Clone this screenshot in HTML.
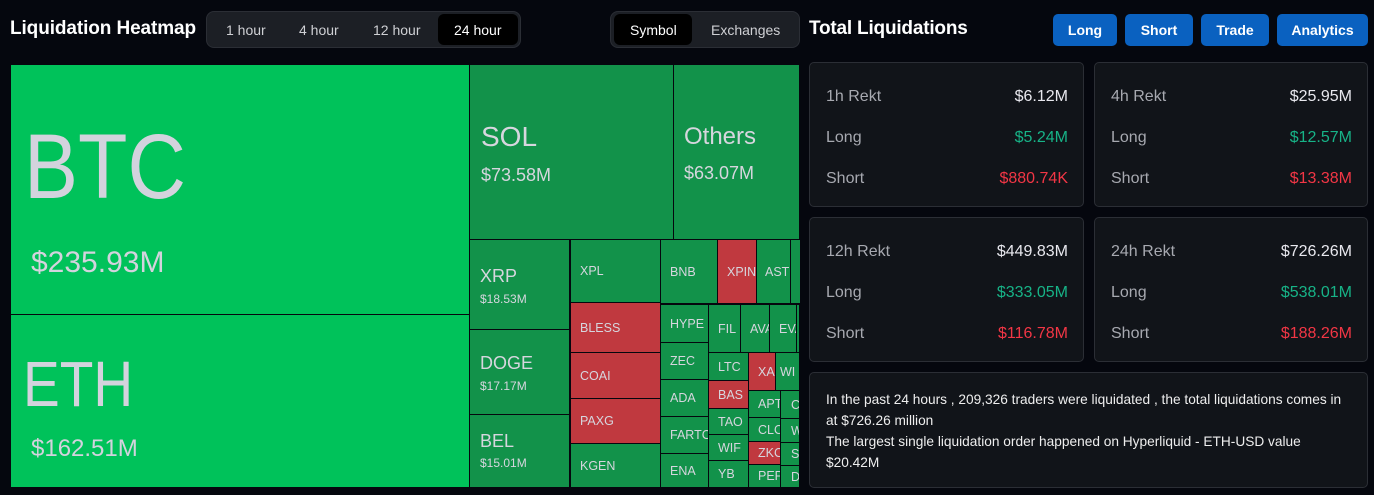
<!DOCTYPE html>
<html><head><meta charset="utf-8"><style>
*{margin:0;padding:0;box-sizing:border-box}
body{width:1374px;height:495px;background:#05070e;font-family:"Liberation Sans",sans-serif;position:relative;overflow:hidden;color:#e8e8ee}
.a{position:absolute}
.t{position:absolute;background:#12924a;color:#d6d6de;overflow:hidden;white-space:nowrap;font-size:12.5px;display:flex;align-items:center;padding-left:9px}
.r{background:#c0393f}
.g{background:#00c25a}
.big{display:block;padding:0}
.c{transform-origin:0 0;display:inline-block}
.btn{position:absolute;top:14px;height:32px;background:#0a61c0;border-radius:5px;color:#fff;font-weight:bold;font-size:14px;display:flex;align-items:center;justify-content:center}
.card{position:absolute;background:#111419;border:1px solid #2b2e35;border-radius:5px}
.row{position:absolute;left:16px;right:15px;display:flex;justify-content:space-between;font-size:16px}
.lab{color:#a7a9b0}
.gr{color:#17b387}.rd{color:#f23645}
</style></head><body>
<div class="a" style="left:10px;top:18px;font-size:19px;font-weight:bold;letter-spacing:-0.1px;color:#fff">Liquidation Heatmap</div>
<div class="a" style="left:206px;top:11px;width:315px;height:37px;background:#1c1f25;border:1px solid #2b2e35;border-radius:8px"></div>
<div class="a" style="left:438px;top:14px;width:80px;height:31px;background:#000;border-radius:6px"></div>
<div class="a" style="left:226px;top:22px;font-size:14px;color:#cfd0d4">1 hour</div>
<div class="a" style="left:299px;top:22px;font-size:14px;color:#cfd0d4">4 hour</div>
<div class="a" style="left:373px;top:22px;font-size:14px;color:#cfd0d4">12 hour</div>
<div class="a" style="left:454px;top:22px;font-size:14px;color:#fff">24 hour</div>
<div class="a" style="left:610px;top:11px;width:190px;height:37px;background:#1c1f25;border:1px solid #2b2e35;border-radius:8px"></div>
<div class="a" style="left:614px;top:14px;width:78px;height:31px;background:#000;border-radius:6px"></div>
<div class="a" style="left:630px;top:22px;font-size:14px;color:#fff">Symbol</div>
<div class="a" style="left:711px;top:22px;font-size:14px;color:#cfd0d4">Exchanges</div>

<!-- heatmap -->
<div class="t g big" style="left:11px;top:65px;width:458px;height:249px"><div class="a c" style="left:13px;top:50px;font-size:92px;color:#d3d3dd;transform:scaleX(0.88)">BTC</div><div class="a" style="left:20px;top:181px;font-size:30px;color:#d3d3dd">$235.93M</div></div>
<div class="t g big" style="left:11px;top:315px;width:458px;height:172px"><div class="a c" style="left:12px;top:32px;font-size:64px;color:#d3d3dd;transform:scaleX(0.86)">ETH</div><div class="a" style="left:20px;top:120px;font-size:24px;color:#d3d3dd">$162.51M</div></div>
<div class="t big" style="left:470px;top:65px;width:203px;height:174px"><div class="a" style="left:11px;top:56px;font-size:28px">SOL</div><div class="a" style="left:11px;top:100px;font-size:18px">$73.58M</div></div>
<div class="t big" style="left:674px;top:65px;width:125px;height:174px"><div class="a" style="left:10px;top:58px;font-size:24px">Others</div><div class="a" style="left:10px;top:98px;font-size:18px">$63.07M</div></div>
<div class="t big" style="left:470px;top:240px;width:99px;height:89px"><div class="a" style="left:10px;top:26px;font-size:18px">XRP</div><div class="a" style="left:10px;top:52px;font-size:12px">$18.53M</div></div>
<div class="t big" style="left:470px;top:330px;width:99px;height:84px"><div class="a" style="left:10px;top:23px;font-size:18px">DOGE</div><div class="a" style="left:10px;top:49px;font-size:12px">$17.17M</div></div>
<div class="t big" style="left:470px;top:415px;width:99px;height:72px"><div class="a" style="left:10px;top:16px;font-size:18px">BEL</div><div class="a" style="left:10px;top:41px;font-size:12px">$15.01M</div></div>
<div class="t" style="left:571px;top:240px;width:89px;height:62px">XPL</div>
<div class="t r" style="left:571px;top:303px;width:89px;height:49px">BLESS</div>
<div class="t r" style="left:571px;top:353px;width:89px;height:45px">COAI</div>
<div class="t r" style="left:571px;top:399px;width:89px;height:44px">PAXG</div>
<div class="t" style="left:571px;top:444px;width:89px;height:43px">KGEN</div>
<div class="t" style="left:661px;top:240px;width:56px;height:63px">BNB</div>
<div class="t r" style="left:718px;top:240px;width:38px;height:63px">XPIN</div>
<div class="t" style="left:757px;top:240px;width:33px;height:63px;padding-left:8px">AST</div>
<div class="t" style="left:791px;top:240px;width:8px;height:63px"></div>
<div class="t" style="left:661px;top:305px;width:47px;height:37px">HYPE</div>
<div class="t" style="left:661px;top:343px;width:47px;height:36px">ZEC</div>
<div class="t" style="left:661px;top:380px;width:47px;height:36px">ADA</div>
<div class="t" style="left:661px;top:417px;width:47px;height:36px">FARTC</div>
<div class="t" style="left:661px;top:454px;width:47px;height:33px">ENA</div>
<div class="t" style="left:709px;top:305px;width:31px;height:47px">FIL</div>
<div class="t" style="left:741px;top:305px;width:28px;height:47px">AVA</div>
<div class="t" style="left:770px;top:305px;width:26px;height:47px">EVA</div>
<div class="t" style="left:797px;top:305px;width:2px;height:47px;padding:0"></div>
<div class="t" style="left:709px;top:353px;width:39px;height:27px">LTC</div>
<div class="t r" style="left:709px;top:381px;width:39px;height:27px">BAS</div>
<div class="t" style="left:709px;top:409px;width:39px;height:25px">TAO</div>
<div class="t" style="left:709px;top:435px;width:39px;height:25px">WIF</div>
<div class="t" style="left:709px;top:461px;width:39px;height:26px">YB</div>
<div class="t r" style="left:749px;top:353px;width:26px;height:37px">XA</div>
<div class="t" style="left:776px;top:353px;width:23px;height:37px;padding-left:4px">WI</div>
<div class="t" style="left:749px;top:391px;width:31px;height:26px">APT</div>
<div class="t" style="left:749px;top:418px;width:31px;height:23px">CLO</div>
<div class="t r" style="left:749px;top:442px;width:31px;height:22px">ZKC</div>
<div class="t" style="left:749px;top:465px;width:31px;height:22px">PEP</div>
<div class="t" style="left:781px;top:391px;width:18px;height:27px;padding-left:10px">C</div>
<div class="t" style="left:781px;top:419px;width:18px;height:23px;padding-left:10px">W</div>
<div class="t" style="left:781px;top:443px;width:18px;height:22px;padding-left:10px">S</div>
<div class="t" style="left:781px;top:466px;width:18px;height:21px;padding-left:10px">D</div>

<!-- right -->
<div class="a" style="left:809px;top:18px;font-size:19px;font-weight:bold;letter-spacing:-0.2px;color:#fff">Total Liquidations</div>
<div class="btn" style="left:1053px;width:64px">Long</div>
<div class="btn" style="left:1125px;width:68px">Short</div>
<div class="btn" style="left:1201px;width:68px">Trade</div>
<div class="btn" style="left:1277px;width:91px">Analytics</div>

<div class="card" style="left:809px;top:62px;width:275px;height:145px">
<div class="row" style="top:25px"><span class="lab">1h Rekt</span><span>$6.12M</span></div>
<div class="row" style="top:66px"><span class="lab">Long</span><span class="gr">$5.24M</span></div>
<div class="row" style="top:107px"><span class="lab">Short</span><span class="rd">$880.74K</span></div></div>
<div class="card" style="left:1094px;top:62px;width:274px;height:145px">
<div class="row" style="top:25px"><span class="lab">4h Rekt</span><span>$25.95M</span></div>
<div class="row" style="top:66px"><span class="lab">Long</span><span class="gr">$12.57M</span></div>
<div class="row" style="top:107px"><span class="lab">Short</span><span class="rd">$13.38M</span></div></div>
<div class="card" style="left:809px;top:217px;width:275px;height:145px">
<div class="row" style="top:25px"><span class="lab">12h Rekt</span><span>$449.83M</span></div>
<div class="row" style="top:66px"><span class="lab">Long</span><span class="gr">$333.05M</span></div>
<div class="row" style="top:107px"><span class="lab">Short</span><span class="rd">$116.78M</span></div></div>
<div class="card" style="left:1094px;top:217px;width:274px;height:145px">
<div class="row" style="top:25px"><span class="lab">24h Rekt</span><span>$726.26M</span></div>
<div class="row" style="top:66px"><span class="lab">Long</span><span class="gr">$538.01M</span></div>
<div class="row" style="top:107px"><span class="lab">Short</span><span class="rd">$188.26M</span></div></div>
<div class="card" style="left:809px;top:372px;width:559px;height:116px;padding:16px 14px 16px 16px;font-size:13.7px;line-height:21px;color:#eee">In the past 24 hours , 209,326 traders were liquidated , the total liquidations comes in at $726.26 million<br>The largest single liquidation order happened on Hyperliquid - ETH-USD value $20.42M</div>
</body></html>
